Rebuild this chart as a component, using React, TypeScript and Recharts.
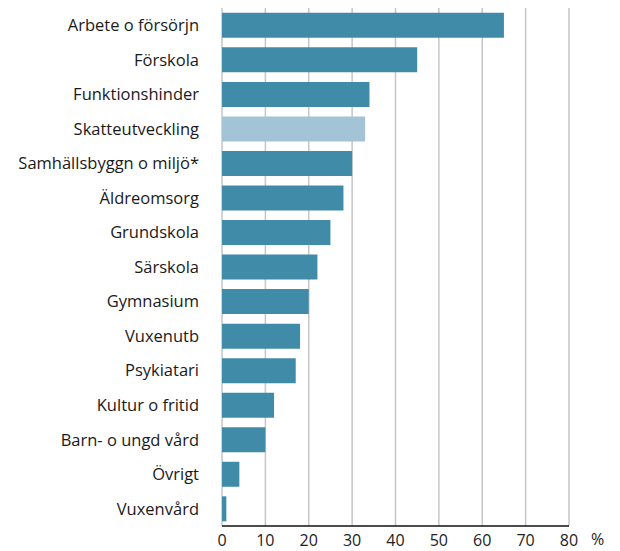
import React from 'react';
import { BarChart, Bar, XAxis, YAxis, CartesianGrid, Cell } from 'recharts';

const categories = [
  'Arbete o försörjn',
  'Förskola',
  'Funktionshinder',
  'Skatteutveckling',
  'Samhällsbyggn o miljö*',
  'Äldreomsorg',
  'Grundskola',
  'Särskola',
  'Gymnasium',
  'Vuxenutb',
  'Psykiatari',
  'Kultur o fritid',
  'Barn- o ungd vård',
  'Övrigt',
  'Vuxenvård',
];

const values = [65, 45, 34, 33, 30, 28, 25, 22, 20, 18, 17, 12, 10, 4, 1];

const highlighted = ['Skatteutveckling'];

const xTicks = [0, 10, 20, 30, 40, 50, 60, 70, 80];

const data = categories.map((name, i) => ({ name, value: values[i] }));

const FONT = '"Open Sans", sans-serif';

export default function App() {
  return (
    <div style={{ position: 'absolute', left: 0, top: 0, background: '#fff' }}>
      <BarChart
        width={620}
        height={551}
        data={data}
        layout="vertical"
        margin={{ top: 8, right: 51, bottom: 0, left: 0 }}
        barCategoryGap="14%"
      >
        <CartesianGrid horizontal={false} stroke="#c6c6c6" strokeWidth={1.5} />
        <XAxis
          type="number"
          domain={[0, 80]}
          ticks={xTicks}
          height={25}
          tickLine={false}
          axisLine={{ stroke: '#111', strokeWidth: 1.5 }}
          tick={{ fontSize: 16, fill: '#222', fontFamily: FONT }}
          tickMargin={3}
          label={{ value: '%', position: 'right', offset: 22, dy: 1, fontSize: 16, fill: '#222', fontFamily: FONT }}
        />
        <YAxis
          type="category"
          dataKey="name"
          width={222}
          axisLine={false}
          tickLine={false}
          tickMargin={17}
          interval={0}
          tick={{ fontSize: 16.5, fill: '#1a1a1a', fontFamily: FONT }}
        />
        <Bar dataKey="value" isAnimationActive={false}>
          {data.map((d) => (
            <Cell key={d.name} fill={highlighted.includes(d.name) ? '#a3c4d7' : '#408ba8'} />
          ))}
        </Bar>
      </BarChart>
    </div>
  );
}
